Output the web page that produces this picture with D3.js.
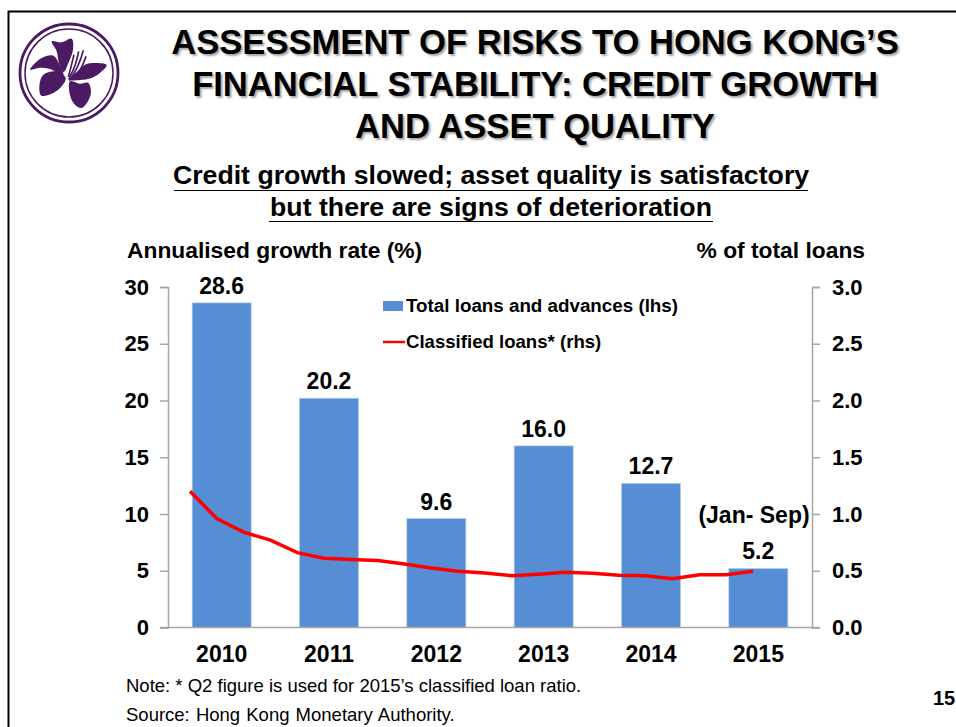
<!DOCTYPE html>
<html>
<head>
<meta charset="utf-8">
<script src="https://cdn.jsdelivr.net/npm/d3@7"></script>
<style>
  body { margin: 0; background: #fff; }
  svg { display: block; }
  text { font-family: "Liberation Sans", Arial, sans-serif; fill: #000; }
  .bold text, text.bold { font-weight: bold; }
</style>
</head>
<body>
<div id="VizBox"></div>
<script>
var years = ["2010", "2011", "2012", "2013", "2014", "2015"];
var loans = [28.6, 20.2, 9.6, 16.0, 12.7, 5.2];
var loanLabels = ["28.6", "20.2", "9.6", "16.0", "12.7", "5.2"];
var quarters = ["10Q1","10Q2","10Q3","10Q4","11Q1","11Q2","11Q3","11Q4","12Q1","12Q2","12Q3","12Q4",
                "13Q1","13Q2","13Q3","13Q4","14Q1","14Q2","14Q3","14Q4","15Q1","15Q2"];
var classified = [1.2, 0.96, 0.84, 0.77, 0.66, 0.61, 0.60, 0.59, 0.56, 0.525, 0.495, 0.48,
                  0.456, 0.47, 0.486, 0.477, 0.46, 0.456, 0.43, 0.465, 0.465, 0.495];
var leftTicks = [0, 5, 10, 15, 20, 25, 30];
var rightTicks = [0, 0.5, 1, 1.5, 2, 2.5, 3];
var titleLines = ["ASSESSMENT OF RISKS TO HONG KONG\u2019S", "FINANCIAL STABILITY: CREDIT GROWTH", "AND ASSET QUALITY"];
var subtitleLines = ["Credit growth slowed; asset quality is satisfactory", "but there are signs of deterioration"];

var svg = d3.select("#VizBox")
.append("svg")
  .attr("width", 956)
  .attr("height", 727);

// Slide frame
svg.append("path")
  .attr("d", "M8.5,727V11.5H956")
  .attr("fill", "none")
  .attr("stroke", "#000")
  .attr("stroke-width", 2);

// Logo, outlines traced in 3x crop pixels
var logoColor = "#4b1a63";
var logo = svg.append("g").attr("transform", "translate(69,73)");
logo.append("circle").attr("r", 49).attr("fill", "none").attr("stroke", logoColor).attr("stroke-width", 2.8);
logo.append("circle").attr("r", 44).attr("fill", "none").attr("stroke", logoColor).attr("stroke-width", 1.5);
var petals = logo.append("g").attr("transform", "scale(0.3333) translate(-207,-220)").attr("fill", logoColor);
var petalShape = d3.line().curve(d3.curveCatmullRomClosed.alpha(0.5));
[
  [[155,125],[185,128],[215,117],[219,150],[205,190],[191,217],[178,195],[170,155]],
  [[320,196],[285,190],[255,195],[233,215],[206,240],[240,241],[275,235],[302,218]],
  [[210,245],[240,252],[265,250],[272,285],[245,325],[225,315],[211,290]],
  [[130,225],[170,215],[197,235],[185,260],[160,280],[124,288],[118,262]],
  [[90,210],[125,175],[160,168],[180,198],[190,226],[150,208],[120,204]]
].forEach(function(p) { petals.append("path").attr("d", petalShape(p)); });
[
  "M205,232 Q215,195 222,165", "M208,234 Q228,200 236,155", "M212,236 Q236,205 250,152",
  "M216,238 Q245,215 258,170", "M205,238 Q235,230 262,205"
].forEach(function(d) {
  petals.append("path").attr("d", d).attr("fill", "none").attr("stroke", logoColor).attr("stroke-width", 5);
});

// Title with soft shadow
svg.append("g").selectAll("text")
  .data(titleLines)
  .enter().append("text")
    .attr("class", "bold")
    .attr("x", 535)
    .attr("y", function(d, i) { return 54 + i * 42; })
    .attr("text-anchor", "middle")
    .style("font-size", "34.6px")
    .style("text-shadow", "2px 2px 2px rgba(0,0,0,0.35)")
    .text(function(d) { return d; });

// Subtitle
svg.append("g").selectAll("text")
  .data(subtitleLines)
  .enter().append("text")
    .attr("class", "bold")
    .attr("x", 491)
    .attr("y", function(d, i) { return 184 + i * 31.5; })
    .attr("text-anchor", "middle")
    .style("font-size", "26.7px")
    .text(function(d) { return d; });
svg.append("line").attr("x1", 174).attr("x2", 808).attr("y1", 190.5).attr("y2", 190.5).attr("stroke", "#000");
svg.append("line").attr("x1", 269).attr("x2", 713).attr("y1", 221.5).attr("y2", 221.5).attr("stroke", "#000");

// Axis titles
svg.append("text").attr("class", "bold").attr("x", 127).attr("y", 258).style("font-size", "22.8px").text("Annualised growth rate (%)");
svg.append("text").attr("class", "bold").attr("x", 865).attr("y", 258).attr("text-anchor", "end").style("font-size", "22.8px").text("% of total loans");

// Scales
var x = d3.scaleBand().domain(years).range([168, 812]).paddingInner(0.45).paddingOuter(0.225);
var yLeft = d3.scaleLinear().domain([0, 30]).range([627.5, 287]);
var yRight = d3.scaleLinear().domain([0, 3]).range([627.5, 287]);
var xLine = d3.scalePoint().domain(quarters).range([190, 753]);

// Bars
svg.selectAll("rect.bar")
  .data(loans)
  .enter().append("rect")
    .attr("class", "bar")
    .attr("x", function(d, i) { return x(years[i]); })
    .attr("y", function(d) { return yLeft(d); })
    .attr("width", x.bandwidth())
    .attr("height", function(d) { return yLeft(0) - yLeft(d); })
    .attr("fill", "#558ed5")
    .attr("stroke", "#b9cdea")
    .attr("stroke-width", 0.7);

// Axes
function styleAxis(g) {
  g.selectAll("path, line").attr("stroke", "#a6a6a6").attr("stroke-width", 1.5);
  g.selectAll("text").attr("font-family", null).style("font-weight", "bold");
}
svg.append("g").attr("transform", "translate(168,0)")
  .call(d3.axisLeft(yLeft).tickValues(leftTicks).tickSize(8).tickSizeOuter(8).tickPadding(11))
  .call(styleAxis)
  .call(function(g) { g.selectAll("text").style("font-size", "22px"); });
svg.append("g").attr("transform", "translate(812,0)")
  .call(d3.axisRight(yRight).tickValues(rightTicks).tickFormat(d3.format(".1f")).tickSize(8).tickSizeOuter(8).tickPadding(12))
  .call(styleAxis)
  .call(function(g) { g.selectAll("text").style("font-size", "22px"); });
svg.append("g").attr("transform", "translate(0,627.5)")
  .call(d3.axisBottom(x).tickSize(0).tickPadding(18))
  .call(styleAxis)
  .call(function(g) {
    g.selectAll("text").style("font-size", "23px");
    g.select(".domain").attr("d", "M160,0H820");
  });

// Classified loans line
var line = d3.line()
  .x(function(d, i) { return xLine(quarters[i]); })
  .y(function(d) { return yRight(d); });
svg.append("path")
  .datum(classified)
  .attr("d", line)
  .attr("fill", "none")
  .attr("stroke", "#ff0000")
  .attr("stroke-width", 3.5);

// Data labels
svg.selectAll("text.val")
  .data(loanLabels)
  .enter().append("text")
    .attr("class", "val bold")
    .attr("x", function(d, i) { return x(years[i]) + x.bandwidth() / 2; })
    .attr("y", function(d, i) { return yLeft(loans[i]) - 9; })
    .attr("text-anchor", "middle")
    .style("font-size", "23px")
    .text(function(d) { return d; });
svg.append("text").attr("class", "bold").attr("x", 754).attr("y", 523).attr("text-anchor", "middle")
  .style("font-size", "23px").text("(Jan- Sep)");

// Legend
svg.append("rect").attr("x", 383).attr("y", 301).attr("width", 20).attr("height", 10).attr("fill", "#558ed5");
svg.append("text").attr("class", "bold").attr("x", 406).attr("y", 312).style("font-size", "18.8px").text("Total loans and advances (lhs)");
svg.append("line").attr("x1", 383).attr("x2", 405).attr("y1", 342).attr("y2", 342).attr("stroke", "#ff0000").attr("stroke-width", 2.5);
svg.append("text").attr("class", "bold").attr("x", 406).attr("y", 348).style("font-size", "18.6px").text("Classified loans* (rhs)");

// Notes
svg.append("text").attr("x", 126).attr("y", 692).style("font-size", "18.5px").text("Note: * Q2 figure is used for 2015\u2019s classified loan ratio.");
svg.append("text").attr("x", 126).attr("y", 721).style("font-size", "18.5px").style("word-spacing", "1px").text("Source:  Hong Kong Monetary Authority.");
svg.append("text").attr("class", "bold").attr("x", 933).attr("y", 705).style("font-size", "20px").text("15");
</script>
</body>
</html>
